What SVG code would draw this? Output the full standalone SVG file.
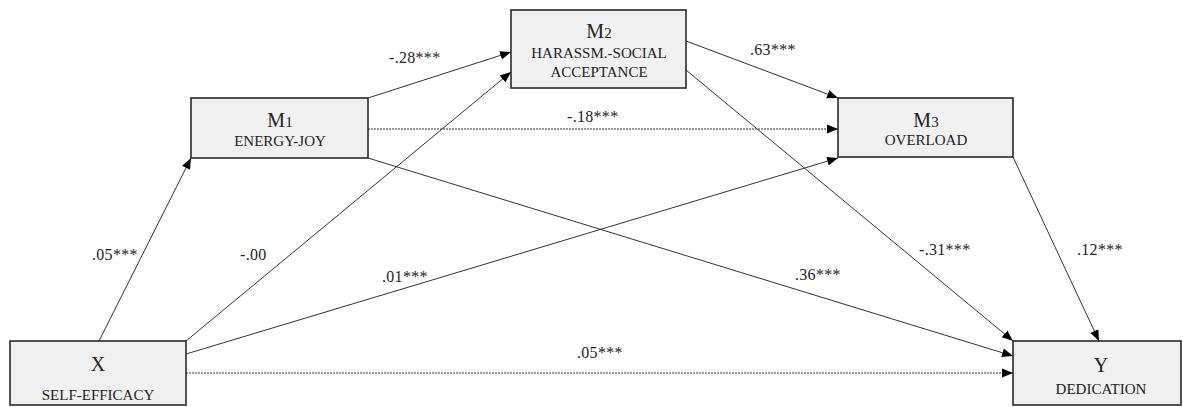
<svg xmlns="http://www.w3.org/2000/svg" width="1183" height="407" viewBox="0 0 1183 407">
<style>
.box{fill:#f0f0f0;stroke:#2a2a2a;stroke-width:1.6}
.t{font-family:"Liberation Serif","Times New Roman",serif;fill:#222;text-anchor:middle}
.ti{font-size:20px}
.sub{font-size:15px}
.lbl{font-family:"Liberation Serif","Times New Roman",serif;font-size:16px;fill:#222;letter-spacing:0.3px}
.c{stroke:#333;stroke-width:1;fill:none;marker-end:url(#ah)}
.d{stroke-dasharray:2 1}
</style>
<defs>
<marker id="ah" viewBox="0 0 10 10" refX="10" refY="5" markerWidth="11" markerHeight="11" markerUnits="userSpaceOnUse" orient="auto">
<path d="M0,1 L10,5 L0,9 z" fill="#000"/>
</marker>
</defs>
<rect width="1183" height="407" fill="#fff"/>
<g id="connectors">
<line class="c" x1="99" y1="341" x2="191" y2="158"/>
<line class="c" x1="186" y1="341" x2="511" y2="72"/>
<line class="c" x1="186" y1="354" x2="838" y2="158"/>
<line class="c d" x1="186" y1="373" x2="1013" y2="373"/>
<line class="c" x1="368" y1="98" x2="511" y2="52"/>
<line class="c d" x1="368" y1="129" x2="838" y2="129"/>
<line class="c" x1="368" y1="158" x2="1013" y2="356"/>
<line class="c" x1="686" y1="41" x2="838" y2="98"/>
<line class="c" x1="686" y1="70" x2="1013" y2="341"/>
<line class="c" x1="1013" y1="157" x2="1099" y2="341"/>
<text class="lbl" x="92" y="260">.05***</text>
<text class="lbl" x="240" y="260">-.00</text>
<text class="lbl" x="382" y="282">.01***</text>
<text class="lbl" x="577" y="358">.05***</text>
<text class="lbl" x="389" y="63">-.28***</text>
<text class="lbl" x="567" y="122">-.18***</text>
<text class="lbl" x="795" y="280">.36***</text>
<text class="lbl" x="750" y="55">.63***</text>
<text class="lbl" x="919" y="255">-.31***</text>
<text class="lbl" x="1077" y="255">.12***</text>
</g>
<g id="node-x">
<rect class="box" x="10" y="341" width="176" height="64"/>
<text class="t ti" x="98" y="371">X</text>
<text class="t sub" x="98" y="400">SELF-EFFICACY</text>
</g>
<g id="node-m1">
<rect class="box" x="191" y="98" width="177" height="60"/>
<text class="t ti" x="280" y="127">M<tspan font-size="15px">1</tspan></text>
<text class="t sub" x="280" y="146" font-size="14px">ENERGY-JOY</text>
</g>
<g id="node-m2">
<rect class="box" x="511" y="10" width="175" height="78"/>
<text class="t ti" x="599" y="38">M<tspan font-size="15px">2</tspan></text>
<text class="t sub" x="599" y="58" font-size="14px">HARASSM.-SOCIAL</text>
<text class="t sub" x="599" y="77" font-size="14px">ACCEPTANCE</text>
</g>
<g id="node-m3">
<rect class="box" x="838" y="98" width="175" height="59"/>
<text class="t ti" x="926" y="127">M<tspan font-size="15px">3</tspan></text>
<text class="t sub" x="926" y="145" font-size="14px">OVERLOAD</text>
</g>
<g id="node-y">
<rect class="box" x="1013" y="341" width="168" height="64"/>
<text class="t ti" x="1101" y="372">Y</text>
<text class="t sub" x="1101" y="394" font-size="16px">DEDICATION</text>
</g>
</svg>
